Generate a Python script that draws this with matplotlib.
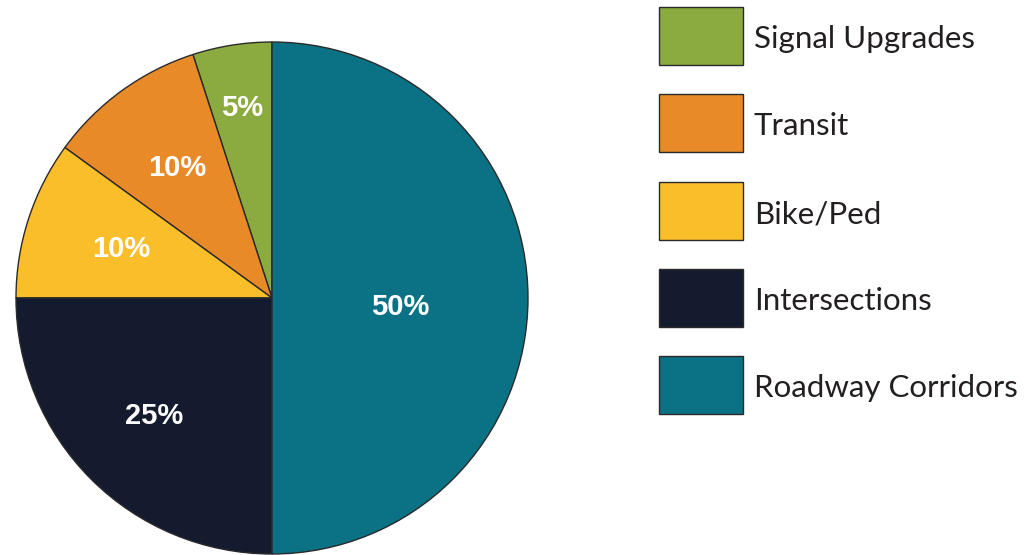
import matplotlib.pyplot as plt
from matplotlib.patches import Rectangle
import numpy as np

# Budget shares
categories = ['Signal Upgrades', 'Transit', 'Bike/Ped', 'Intersections', 'Roadway Corridors']
shares = [5, 10, 10, 25, 50]
colors = ['#8BAA3F', '#E88A28', '#F9BE2A', '#151B2E', '#0B7285']
label_dist = [0.75, 0.63, 0.62, 0.65, 0.5]

W, H = 1030, 555
fig = plt.figure(figsize=(W / 100, H / 100), dpi=100)

# pie axes placed by pixel box
ax = fig.add_axes([16 / W, 1 / H, 512 / W, 512 / H])
wedges, _ = ax.pie(shares, colors=colors, startangle=90, counterclock=True,
                   radius=1, wedgeprops=dict(edgecolor='#2a2a2a', linewidth=1.0))
ax.set_xlim(-1, 1)
ax.set_ylim(-1, 1)
ax.set_aspect('equal')
ax.axis('off')

# percentage labels at the middle angle of each wedge
for w, val, d in zip(wedges, shares, label_dist):
    ang = np.deg2rad((w.theta1 + w.theta2) / 2)
    x, y = d * np.cos(ang), d * np.sin(ang)
    if val == 50:
        y -= 0.035
    ax.text(x, y, f'{val}%', color='white', fontsize=21, ha='center', va='center',
            family='Liberation Sans', fontweight='bold')

# legend drawn by hand
box_tops = [7, 94, 182, 269, 356]
for top, name, col in zip(box_tops, categories, colors):
    fig.add_artist(Rectangle((659 / W, 1 - (top + 58) / H), 84 / W, 58 / H,
                             facecolor=col, edgecolor='#2a2a2a', linewidth=1.0,
                             transform=fig.transFigure))
    fig.text(754 / W, 1 - (top + 32) / H, name, fontsize=22.5, color='#231f20',
             ha='left', va='center', family='Lato')

fig.savefig('out.png', dpi=100)
